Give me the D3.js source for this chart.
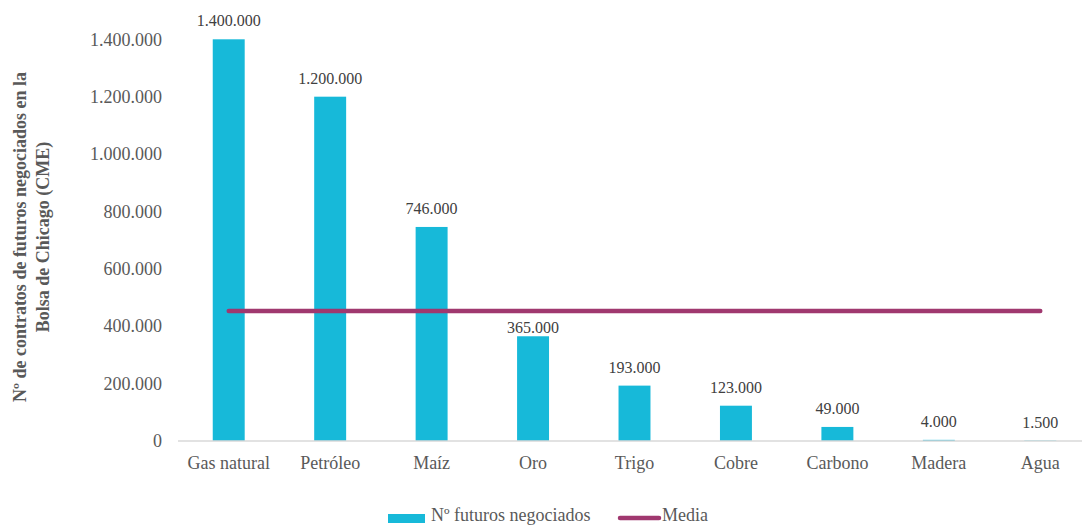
<!DOCTYPE html>
<html>
<head>
<meta charset="utf-8">
<script src="https://cdn.jsdelivr.net/npm/d3@7"></script>
<style>
  html, body { margin: 0; padding: 0; background: #fff; }
  svg { display: block; }
</style>
</head>
<body>
<svg id="chart" width="1082" height="526"></svg>
<script>
// Futures contracts traded on the CME, by commodity
const categories = ["Gas natural", "Petróleo", "Maíz", "Oro", "Trigo", "Cobre", "Carbono", "Madera", "Agua"];
const contracts = [1400000, 1200000, 746000, 365000, 193000, 123000, 49000, 4000, 1500];
const yTicks = [0, 200000, 400000, 600000, 800000, 1000000, 1200000, 1400000];
const seriesNames = ["Nº futuros negociados", "Media"];
const yTitleLines = ["Nº de contratos de futuros negociados en la", "Bolsa de Chicago (CME)"];

const mean = d3.mean(contracts);

const svg = d3.select("#chart");
const serif = "'Liberation Serif', 'Times New Roman', serif";
const barColor = "#17b9d9";
const lineColor = "#a0386f";

const x = d3.scaleBand().domain(categories).range([178, 1091]).paddingInner(0.685).paddingOuter(0.3425);
const y = d3.scaleLinear().domain([0, 1400000]).range([441, 39.3]);

// number format with dot as thousands separator
const fmt = d3.formatLocale({ decimal: ",", thousands: ".", grouping: [3], currency: ["", "€"] }).format(",");

// y-axis tick labels (no axis line)
const yAxis = svg.append("g").attr("transform", "translate(170,0)")
  .call(d3.axisLeft(y).tickValues(yTicks).tickFormat(fmt).tickSize(0).tickPadding(8));
yAxis.select(".domain").remove();
yAxis.selectAll("text")
  .attr("font-family", serif).attr("font-size", 18).attr("fill", "#595959");

// bars
svg.append("g").selectAll("rect").data(categories).join("rect")
  .attr("x", d => x(d))
  .attr("width", x.bandwidth())
  .attr("y", (d, i) => y(contracts[i]))
  .attr("height", (d, i) => y(0) - y(contracts[i]))
  .attr("fill", barColor);

// x axis
const xAxis = svg.append("g").attr("transform", `translate(0,${y(0)})`)
  .call(d3.axisBottom(x).tickSize(0).tickPadding(15));
xAxis.select(".domain").attr("stroke", "#d9d9d9").attr("stroke-width", 1.5)
  .attr("d", `M178,0H1082`);
xAxis.selectAll("text")
  .attr("font-family", serif).attr("font-size", 18).attr("fill", "#595959");

// mean line across category centres
const cx = d => x(d) + x.bandwidth() / 2;
const meanY = y(mean);
svg.append("path")
  .datum(categories)
  .attr("d", d3.line().x(d => cx(d)).y(() => meanY))
  .attr("fill", "none")
  .attr("stroke", lineColor)
  .attr("stroke-width", 4.5)
  .attr("stroke-linecap", "round");

// value labels above bars; a label that would cross the mean line sits tight on its bar
const labelY = v => {
  const top = y(v);
  const base = top - 13;
  const crosses = base - 13 < meanY + 3 && base > meanY - 3;
  return crosses ? top - 3 : base;
};
svg.append("g").selectAll("text").data(categories).join("text")
  .attr("x", d => cx(d))
  .attr("y", (d, i) => labelY(contracts[i]))
  .attr("text-anchor", "middle")
  .attr("font-family", serif).attr("font-size", 16).attr("fill", "#404040")
  .text((d, i) => fmt(contracts[i]));

// y-axis title
const yt = svg.append("text")
  .attr("transform", "translate(26,237) rotate(-90)")
  .attr("text-anchor", "middle")
  .attr("font-family", serif).attr("font-size", 18).attr("font-weight", "bold").attr("fill", "#595959");
yTitleLines.forEach((t, i) => {
  yt.append("tspan").attr("x", 0).attr("dy", i === 0 ? 0 : 23).text(t);
});

// legend
const lg = svg.append("g");
lg.append("rect").attr("x", 388).attr("y", 514).attr("width", 37).attr("height", 9).attr("fill", barColor);
lg.append("text").attr("x", 431).attr("y", 521)
  .attr("font-family", serif).attr("font-size", 18).attr("fill", "#595959").text(seriesNames[0]);
lg.append("line").attr("x1", 620).attr("x2", 659).attr("y1", 518).attr("y2", 518)
  .attr("stroke", lineColor).attr("stroke-width", 4.5).attr("stroke-linecap", "round");
lg.append("text").attr("x", 662).attr("y", 521)
  .attr("font-family", serif).attr("font-size", 18).attr("fill", "#595959").text(seriesNames[1]);
</script>
</body>
</html>
